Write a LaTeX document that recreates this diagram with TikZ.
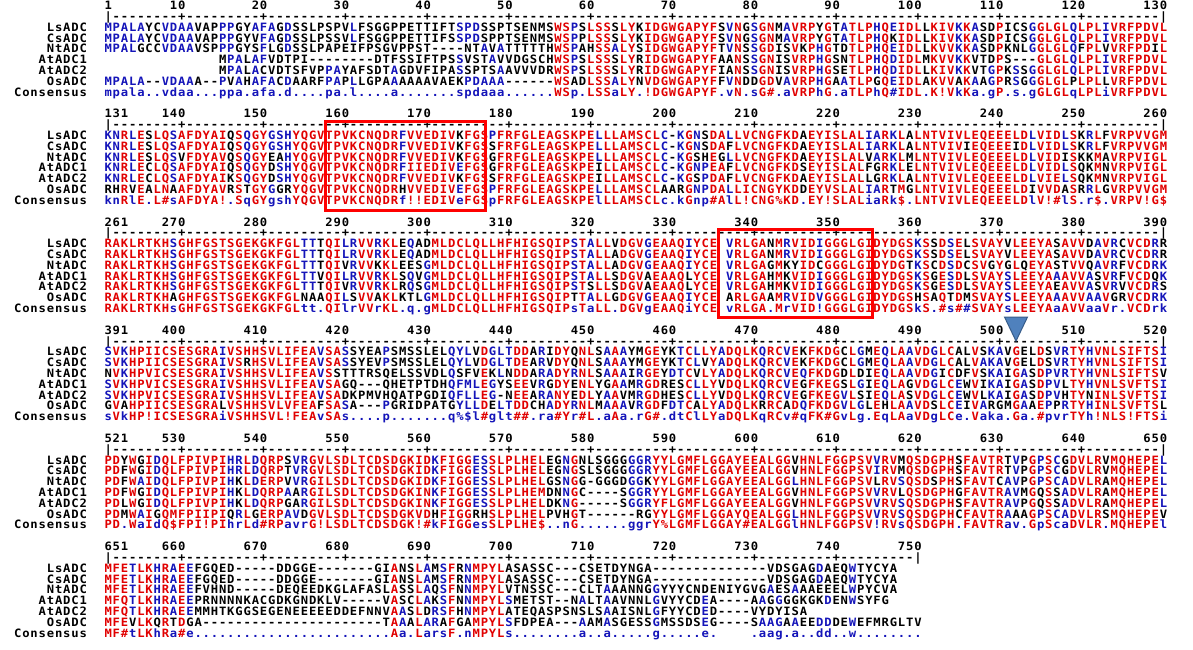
\documentclass[tikz,border=0pt]{standalone}
\usepackage{fontspec}
\newfontfamily\seqfont[FakeStretch=1.06]{DejaVu Sans Mono}
\definecolor{hired}{RGB}{225,0,0}
\definecolor{loblue}{RGB}{20,20,185}
\definecolor{nblack}{RGB}{0,0,0}
\definecolor{boxred}{RGB}{255,0,0}
\definecolor{trifill}{RGB}{79,129,189}
\definecolor{triline}{RGB}{56,93,138}
\newlength\alncellw
\setlength\alncellw{8.18pt}

\ExplSyntaxOn
\str_const:Nn \c_aln_upper_str {ABCDEFGHIJKLMNOPQRSTUVWXYZ}
\str_const:Nn \c_aln_lower_str {abcdefghijklmnopqrstuvwxyz}
\str_new:N \l_aln_c_str
\str_new:N \l_aln_x_str
\str_new:N \l_aln_set_str
\tl_new:N \l_aln_lev_tl
\tl_new:N \l_aln_col_tl
\int_new:N \l_aln_cnt_int
\bool_new:N \l_aln_grp_bool
\tl_new:N \l_aln_first_tl
\tl_new:N \l_aln_lbl_tl
\tl_new:N \l_aln_d_tl
\tl_new:N \l_aln_r_tl
\int_new:N \l_aln_fl_int
\int_new:N \l_aln_t_int
\int_new:N \l_aln_ll_int
\tl_new:N \g_aln_num_tl
\tl_new:N \g_aln_rul_tl
\int_step_inline:nn {7} { \tl_new:c {g_aln_out_#1_tl} }
\cs_generate_variant:Nn \str_item:Nn {c}

\NewDocumentCommand \SetRow {mmm}
  {
    \str_if_exist:cF {g_aln_#1_#2_str} { \str_new:c {g_aln_#1_#2_str} }
    \str_gset:cn {g_aln_#1_#2_str} {#3}
  }

\cs_new:Npn \aln_char:n #1
  { \str_case:nnF {#1} { {_} { } {@} { \$ } {*} { \% } {=} { \# } } {#1} }

\NewDocumentCommand \alncell {mm}
  { \makebox[\alncellw][c]{ \textcolor{#1}{ \aln_char:n {#2} } } }

\cs_new_protected:Npn \aln_col:nn #1#2
  {
    \str_set:Nx \l_aln_c_str { \str_item:cn {g_aln_#1_7_str} {#2} }
    \str_clear:N \l_aln_set_str
    \tl_set:Nn \l_aln_lev_tl {loblue}
    \bool_set_false:N \l_aln_grp_bool
    \str_if_empty:NF \l_aln_c_str
      {
        \exp_args:NNV \str_if_in:NnTF \c_aln_upper_str \l_aln_c_str
          {
            \str_set_eq:NN \l_aln_set_str \l_aln_c_str
            \tl_set:Nn \l_aln_lev_tl {hired}
          }
          {
            \exp_args:NNV \str_if_in:NnTF \c_aln_lower_str \l_aln_c_str
              { \str_set:Nx \l_aln_set_str { \str_uppercase:f { \l_aln_c_str } } }
              {
                \exp_args:NV \str_case:nnF \l_aln_c_str
                  {
                    {!} { \str_set:Nn \l_aln_set_str {IV} \bool_set_true:N \l_aln_grp_bool }
                    {@} { \str_set:Nn \l_aln_set_str {LM} \bool_set_true:N \l_aln_grp_bool }
                    {*} { \str_set:Nn \l_aln_set_str {FY} \bool_set_true:N \l_aln_grp_bool }
                    {=} { \str_set:Nn \l_aln_set_str {NDQEBZ} \bool_set_true:N \l_aln_grp_bool }
                  }
                  { }
              }
          }
      }
    \bool_if:NT \l_aln_grp_bool
      {
        \int_zero:N \l_aln_cnt_int
        \int_step_inline:nn {6}
          {
            \str_set:Nx \l_aln_x_str { \str_item:cn {g_aln_#1_##1_str} {#2} }
            \str_if_empty:NF \l_aln_x_str
              {
                \exp_args:NNV \str_if_in:NnT \l_aln_set_str \l_aln_x_str
                  { \int_incr:N \l_aln_cnt_int }
              }
          }
        \int_compare:nNnT { \l_aln_cnt_int } = {6}
          { \tl_set:Nn \l_aln_lev_tl {hired} }
      }
    \int_step_inline:nn {6}
      {
        \str_set:Nx \l_aln_x_str { \str_item:cn {g_aln_#1_##1_str} {#2} }
        \tl_set:Nn \l_aln_col_tl {nblack}
        \bool_lazy_or:nnF { \str_if_empty_p:N \l_aln_set_str } { \str_if_empty_p:N \l_aln_x_str }
          {
            \exp_args:NNV \str_if_in:NnT \l_aln_set_str \l_aln_x_str
              { \tl_set_eq:NN \l_aln_col_tl \l_aln_lev_tl }
          }
        \tl_gput_right:cx {g_aln_out_##1_tl} { \exp_not:N \alncell {\l_aln_col_tl} {\l_aln_x_str} }
      }
    \tl_gput_right:cx {g_aln_out_7_tl} { \exp_not:N \alncell {\l_aln_lev_tl} {\l_aln_c_str} }
  }

\NewDocumentCommand \ComputeBlock {mm}
  {
    \int_step_inline:nn {7} { \tl_gclear:c {g_aln_out_##1_tl} }
    \int_step_inline:nn {#2} { \aln_col:nn {#1} {##1} }
  }

\NewDocumentCommand \AlnOut {m} { \tl_use:c {g_aln_out_#1_tl} }

\NewDocumentCommand \AlnWord {m}
  { \exp_args:Nx \str_map_inline:nn {#1} { \makebox[\alncellw][c]{##1} } }

\cs_new_protected:Npn \aln_numline:nn #1#2
  {
    \tl_gclear:N \g_aln_num_tl
    \tl_gclear:N \g_aln_rul_tl
    \tl_set:Nx \l_aln_first_tl { \int_eval:n {#1} }
    \int_set:Nn \l_aln_fl_int { \tl_count:N \l_aln_first_tl }
    \int_step_inline:nn {#2}
      {
        \tl_set:Nn \l_aln_d_tl {_}
        \int_compare:nNnTF {##1} > { \l_aln_fl_int }
          {
            \int_set:Nn \l_aln_t_int { \int_div_truncate:nn { ##1 + 9 } {10} * 10 }
            \int_compare:nNnF { \l_aln_t_int } > {#2}
              {
                \tl_set:Nx \l_aln_lbl_tl { \int_eval:n { #1 - 1 + \l_aln_t_int } }
                \int_set:Nn \l_aln_ll_int { \tl_count:N \l_aln_lbl_tl }
                \int_compare:nNnT {##1} > { \l_aln_t_int - \l_aln_ll_int }
                  { \tl_set:Nx \l_aln_d_tl { \tl_item:Nn \l_aln_lbl_tl { ##1 - \l_aln_t_int + \l_aln_ll_int } } }
              }
          }
          { \tl_set:Nx \l_aln_d_tl { \tl_item:Nn \l_aln_first_tl {##1} } }
        \tl_gput_right:Nx \g_aln_num_tl { \exp_not:N \alncell {nblack} {\l_aln_d_tl} }
        \bool_lazy_or:nnTF { \int_compare_p:nNn {##1} = {1} } { \int_compare_p:nNn {##1} = {#2} }
          { \tl_set:Nn \l_aln_r_tl {|} }
          {
            \int_compare:nNnTF { \int_mod:nn {##1} {10} } = {0}
              { \tl_set:Nn \l_aln_r_tl {+} }
              { \tl_set:Nn \l_aln_r_tl {-} }
          }
        \tl_gput_right:Nx \g_aln_rul_tl { \exp_not:N \alncell {nblack} {\l_aln_r_tl} }
      }
  }
\NewDocumentCommand \NumLine {mm} { \aln_numline:nn {#1} {#2} }
\NewDocumentCommand \UseNum {} { \tl_use:N \g_aln_num_tl }
\NewDocumentCommand \UseRul {} { \tl_use:N \g_aln_rul_tl }
\ExplSyntaxOff

% ---------------- block 1 ----------------
\SetRow{1}{1}{MPALAYCVDAAVAPPPGYAFAGDSSLPSPVLFSGGPPETTIFTSPDSSPTSENMSWSPSLSSSLYKIDGWGAPYFSVNGSGNMAVRPYGTATLPHQEIDLLKIVKKASDPICSGGLGLQLPLIVRFPDVL}
\SetRow{1}{2}{MPALAYCVDAAVAPPPGYVFAGDSSLPSSVLFSGGPPETTIFSSPDSPPTSENMSWSPPLSSSLYKIDGWGAPYFSVNGSGNMAVRPYGTATLPHQKIDLLKIVKKASDPICSGGLGLQLPLIVRFPDVL}
\SetRow{1}{3}{MPALGCCVDAAVSPPPGYSFLGDSSLPAPEIFPSGVPPST----NTAVATTTTTHWSPAHSSALYSIDGWGAPYFTVNSSGDISVKPHGTDTLPHQEIDLLKVVKKASDPKNLGGLGLQFPLVVRFPDIL}
\SetRow{1}{4}{______________MPALAFVDTPI--------DTFSSIFTPSSVSTAVVDGSCHWSPSLSSSLYRIDGWGAPYFAANSSGNISVRPHGSNTLPHQDIDLMKVVKKVTDPS---GLGLQLPLIVRFPDVL}
\SetRow{1}{5}{______________MPALACVDTSFVPPAYAFSDTAGDVFIPASSPTSAAVVVDRWSPSLSSSLYRIDGWGAPYFIANSSGNISVRPHGSETLPHQDIDLLKIVKKVTGPKSSGGLGLQLPLIVRFPDVL}
\SetRow{1}{6}{MPALA--VDAAA--PVAHAFACDAARFPAPLLGPAAAAAAVAEKPDAAA------WSADLSSALYNVDGWGAPYFFVNDDGDVAVRPHGAATLPGQEIDLAKVVAKAAGPRSGGGLGLPLPLLVRFPDVL}
\SetRow{1}{7}{mpala..vdaa...ppa.afa.d....pa.l....a.......spdaaa......WSp.LSSaLY.!DGWGAPYF.vN.sG=.aVRPhG.aTLPhQ=IDL.K!VkKa.gP.s.gGLGLqLPLiVRFPDVL}
% ---------------- block 2 ----------------
\SetRow{2}{1}{KNRLESLQSAFDYAIQSQGYGSHYQGVTPVKCNQDRFVVEDIVKFGSPFRFGLEAGSKPELLLAMSCLC-KGNSDALLVCNGFKDAEYISLALIARKLALNTVIVLEQEEELDLVIDLSKRLFVRPVVGM}
\SetRow{2}{2}{KNRLESLQSAFDYAIQSQGYGSHYQGVTPVKCNQDRFVVEDIVKFGSSFRFGLEAGSKPELLLAMSCLC-KGNSDAFLVCNGFKDAEYISLALIARKLALNTVIVIEQEEEIDLVIDLSKRLFVRPVVGM}
\SetRow{2}{3}{KNRLESLQSVFDYAVQSQGYEAHYQGVTPVKCNQDRFVVEDIVKFGSGFRFGLEAGSKPELLLAMSCLC-KGSHEGLLVCNGFKDAEYISLALVARKLMLNTVIVLEQEEELDLVIDISKKMAVRPVIGL}
\SetRow{2}{4}{KNRLECLQSAFDYAIQSQGYDSHYQGVTPVKCNQDRFIIEDIVEFGSGFRFGLEAGSKPEILLAMSCLC-KGNPEAFLVCNGFKDSEYISLALFGRKLELNTVIVLEQEEELDLVIDLSQKMNVRPVIGL}
\SetRow{2}{5}{KNRLECLQSAFDYAIKSQGYDSHYQGVTPVKCNQDRFVVEDIVKFGSSFRFGLEAGSKPEILLAMSCLC-KGSPDAFLVCNGFKDAEYISLALLGRKLALNTVIVLEQEEELDLVIELSQKMNVRPVIGL}
\SetRow{2}{6}{RHRVEALNAAFDYAVRSTGYGGRYQGVTPVKCNQDRHVVEDIVEFGSPFRFGLEAGSKPELLLAMSCLAARGNPDALLICNGYKDDEYVSLALIARTMGLNTVIVLEQEEELDIVVDASRRLGVRPVVGM}
\SetRow{2}{7}{knRlE.L=sAFDYA!.SqGYgshYQGVTPVKCNQDRf!!EDIVeFGSpFRFGLEAGSKPElLLAMSCLc.kGnp=AlL!CNG*KD.EY!SLALiaRk@.LNTVIVLEQEEELDlV!=lS.r@.VRPV!G@}
% ---------------- block 3 ----------------
\SetRow{3}{1}{RAKLRTKHSGHFGSTSGEKGKFGLTTTQILRVVRKLEQADMLDCLQLLHFHIGSQIPSTALLVDGVGEAAQIYCE_VRLGANMRVIDIGGGLGIDYDGSKSSDSELSVAYVLEEYASAVVDAVRCVCDRR}
\SetRow{3}{2}{RAKLRTKHSGHFGSTSGEKGKFGLTTTQILRVVRKLEQADMLDCLQLLHFHIGSQIPSTALLADGVGEAAQIYCE_VRLGANMRVIDIGGGLGIDYDGSKSSDSELSVAYVLEEYASAVVDAVRCVCDRR}
\SetRow{3}{3}{RAKLRTKHSGHFGSTSGEKGKFGLTTTQIVRVVKKLEESGMLDCLQLLHFHIGSQIPSTALLADGVGEAAQIYCE_VRLGAGMKYIDCGGGLGIDYDGTKSCDSDCSVGYGLQEYASTVVQAVRFVCDRK}
\SetRow{3}{4}{RAKLRTKHSGHFGSTSGEKGKFGLTTVQILRVVRKLSQVGMLDCLQLLHFHIGSQIPSTALLSDGVAEAAQLYCE_VRLGAHMKVIDIGGGLGIDYDGSKSGESDLSVAYSLEEYAAAVVASVRFVCDQK}
\SetRow{3}{5}{RAKLRTKHSGHFGSTSGEKGKFGLTTTQIVRVVRKLRQSGMLDCLQLLHFHIGSQIPSTSLLSDGVAEAAQLYCE_VRLGAHMKVIDIGGGLGIDYDGSKSGESDLSVAYSLEEYAEAVVASVRVVCDRS}
\SetRow{3}{6}{RAKLRTKHAGHFGSTSGEKGKFGLNAAQILSVVAKLKTLGMLDCLQLLHFHIGSQIPTTALLGDGVGEAAQIYCE_ARLGAAMRVIDVGGGLGIDYDGSHSAQTDMSVAYSLEEYAAAVVAAVGRVCDRK}
\SetRow{3}{7}{RAKLRTKHsGHFGSTSGEKGKFGLtt.QIlrVVrKL.q.gMLDCLQLLHFHIGSQIPsTaLL.DGVgEAAQiYCE_vRLGA.MrVID!GGGLGIDYDGSkS.=s==SVAYsLEEYAaAVVaaVr.VCDrk}
% ---------------- block 4 ----------------
\SetRow{4}{1}{SVKHPIICSESGRAIVSHHSVLIFEAVSASSYEAPSMSSLELQYLVDGLTDDARIDYQNLSAAAYMGEYKTCLLYADQLKQRCVEKFKDGCLGMEQLAAVDGLCALVSKAVGELDSVRTYHVNLSIFTSI}
\SetRow{4}{2}{SVKHPIICSESGRAIVSRHSVLIFEAVSASSYEVPSMSSLELQYLVDGLTDEARVDYQNLSAAAYMGEYKTCLVYADQLKQRCVEKFKDGCLGMEQLAAVDGLCALVAKAVGELDSVRTYHVNLSIFTSI}
\SetRow{4}{3}{NVKHPVICSESGRAIVSHHSVLIFEAVSSTTTRSQELSSVDLQSFVEKLNDDARADYRNLSAAAIRGEYDTCVLYADQLKQRCVEQFKDGDLDIEQLAAVDGICDFVSKAIGASDPVRTYHVNLSIFTSV}
\SetRow{4}{4}{SVKHPVICSESGRAIVSHHSVLIFEAVSAGQ---QHETPTDHQFMLEGYSEEVRGDYENLYGAAMRGDRESCLLYVDQLKQRCVEGFKEGSLGIEQLAGVDGLCEWVIKAIGASDPVLTYHVNLSVFTSI}
\SetRow{4}{5}{SVKHPVICSESGRAIVSHHSVLIFEAVSADKPMVHQATPGDIQFLLEG-NEEARANYEDLYAAVMRGDHESCLLYVDQLKQRCVEGFKEGVLSIEQLASVDGLCEWVLKAIGASDPVHTYNINLSVFTSI}
\SetRow{4}{6}{GVAHPIICSESGRALVSHHSVLVFEAFSASA---PGRIDPATGYLLDELTDDCHADYRNLMAAAVRGDFDTCALYADQLKRRCADQFKDGVLGLEHLAAVDSLCEIVARGMGAAEPPRTYHINLSVFTSL}
\SetRow{4}{7}{sVkHP!ICSESGRAiVSHHSVL!FEAvSAs....p.......q*@l=glt==.ra=Yr=L.aAa.rG=.dtClLYaDQLKqRCv=qFK=GvLg.EqLAaVDgLCe.Vaka.Ga.=pvrTYh!NLS!FTSi}
% ---------------- block 5 ----------------
\SetRow{5}{1}{PDYWGIDQLFPIVPIHRLDQRPSVRGVLSDLTCDSDGKIDKFIGGESSLPLHELEGNGNLSGGGGGRYYLGMFLGGAYEEALGGVHNLFGGPSVVRVMQSDGPHSFAVTRTVPGPSCGDVLRVMQHEPEL}
\SetRow{5}{2}{PDFWGIDQLFPIVPIHRLDQRPTVRGVLSDLTCDSDGKIDKFIGGESSLPLHELEGNGSLSGGGGGRYYLGMFLGGAYEEALGGVHNLFGGPSVIRVMQSDGPHSFAVTRTVPGPSCGDVLRVMQHEPEL}
\SetRow{5}{3}{PDFWAIDQLFPIVPIHKLDERPVVRGILSDLTCDSDGKIDKFIGGESSLPLHELGSNGG-GGGDGGKYYLGMFLGGAYEEALGGLHNLFGGPSVLRVSQSDSPHSFAVTCAVPGPSCADVLRAMQHEPEL}
\SetRow{5}{4}{PDFWGIDQLFPIVPIHKLDQRPAARGILSDLTCDSDGKINKFIGGESSLPLHEMDNNGC----SGGRYYLGMFLGGAYEEALGGVHNLFGGPSVVRVLQSDGPHGFAVTRAVMGQSSADVLRAMQHEPEL}
\SetRow{5}{5}{PDLWGIDQLFPIVPIHKLDQRPGARGILSDLTCDSDGKINKFIGGESSLPLHELDKNG-----SGGRYFLGMFLGGAYEEALGGVHNLFGGPSVVRVSQSDGPHSFAVTRAVPGQSSADVLRAMQHEPEL}
\SetRow{5}{6}{PDMWAIGQMFPIIPIQRLGERPAVDGVLSDLTCDSDGKVDHFIGGRHSLPLHELPVHGT------RGYYLGMFLGGAYQEALGGLHNLFGGPSVVRVSQSDGPHCFAVTRAAAGPSCADVLRSMQHEPEV}
\SetRow{5}{7}{PD.WaIdQ@FPI!PIhrLd=RPavrG!LSDLTCDSDGK!=kFIGGesSLPLHE@..nG......ggrY*LGMFLGGAY=EALGGlHNLFGGPSV!RVsQSDGPH.FAVTRav.GpScaDVLR.MQHEPEl}
% ---------------- block 6 ----------------
\SetRow{6}{1}{MFETLKHRAEEFGQED-----DDGGE-------GIANSLAMSFRNMPYLASASSC---CSETDYNGA--------------VDSGAGDAEQWTYCYA}
\SetRow{6}{2}{MFETLKHRAEEFGQED-----DDGGE-------GIANSLAMSFRNMPYLASASSC---CSETDYNGA--------------VDSGAGDAEQWTYCYA}
\SetRow{6}{3}{MFETLKHRAEEFVHND-----DEQEEDKGLAFASLASSLAQSFNNMPYLVTNSSC---CLTAAANNGGYYYCNDENIYGVGAESAAAEEELWPYCVA}
\SetRow{6}{4}{MFQTLKHRAEEPRNNNNKACGDKGNDKLV-----VASCLAKSFNNMPYLSMETST--NALTAAVNNLGVYYCDEA----AAGGGGKGKDENWSYFG}
\SetRow{6}{5}{MFQTLKHRAEEMMHTKGGSEGENEEEEEDDEFNNVAASLDRSFHNMPYLATEQASPSNSLSAAISNLGFYYCDED----VYDYISA}
\SetRow{6}{6}{MFEVLKQRTDGA----------------------TAAALARAFGAMPYLSFDPEA---AAMASGESSGMSSDSEG----SAAGAAEEDDDEWEFMRGLTV}
\SetRow{6}{7}{MF=tLKhRa=e........................Aa.LarsF.nMPYLs........a..a.....g.....e.____.aag.a..dd..w........}

\begin{document}
\begin{tikzpicture}[x=1pt,y=-1pt,
  txt/.style={anchor=base west,inner sep=0pt,font=\seqfont\bfseries\fontsize{11.5}{13}\selectfont},
  lab/.style={anchor=base east,inner sep=0pt,font=\seqfont\bfseries\fontsize{11.5}{13}\selectfont},
  hlbox/.style={draw=boxred,line width=3pt},
  marker/.style={fill=trifill,draw=triline,line width=1pt}]
\fill[white] (0,0) rectangle (1193,649);
\useasboundingbox (0,0) rectangle (1193,649);
\foreach \bk/\st/\nc in {1/1/130,2/131/130,3/261/130,4/391/130,5/521/130,6/651/100}{
  \ComputeBlock{\bk}{\nc}
  \NumLine{\st}{\nc}
  \pgfmathsetmacro\yb{5.4+108.2*(\bk-1)}
  \node[txt] (num\bk) at (103.91,{\yb+4.2}) {\UseNum};
  \node[txt] (rul\bk) at (103.91,{\yb+10.82+4.2}) {\UseRul};
  \foreach \rr/\lb in {1/LsADC,2/CsADC,3/NtADC,4/AtADC1,5/AtADC2,6/OsADC,7/Consensus}{
    \pgfmathsetmacro\yy{\yb+(\rr+1)*10.82+4.2}
    \node[txt] (s\bk-\rr) at (103.91,\yy) {\AlnOut{\rr}};
    \node[lab] (l\bk-\rr) at (87.55,\yy) {\AlnWord{\lb}};
  }
}
\draw[hlbox] (325,121) rectangle (485,210);
\draw[hlbox] (718,229) rectangle (872.5,317);
\path[marker] (1004.5,317) -- (1027.5,317) -- (1016,341) -- cycle;
\end{tikzpicture}
\end{document}
